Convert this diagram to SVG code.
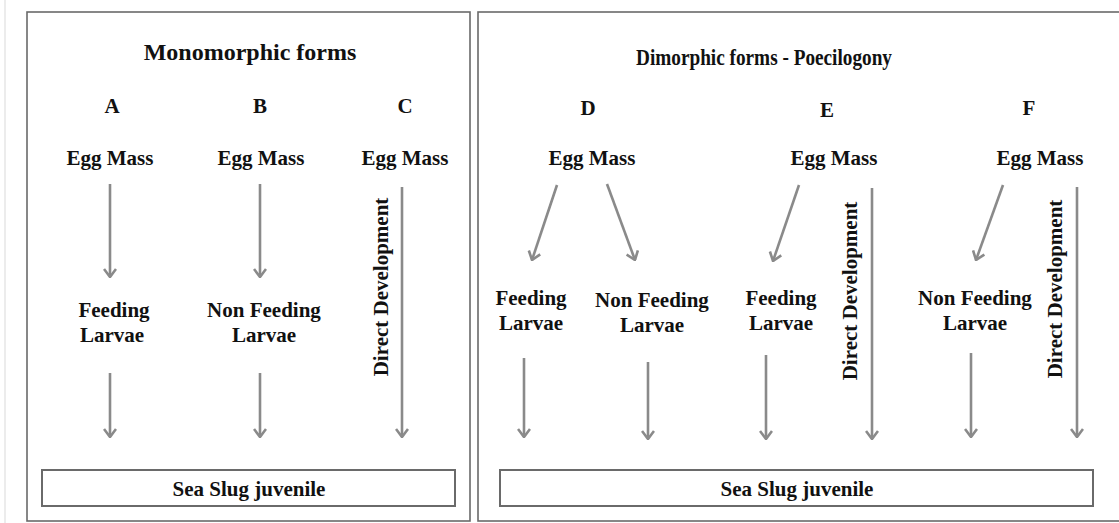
<svg xmlns="http://www.w3.org/2000/svg" width="1119" height="523" viewBox="0 0 1119 523">
<style>
.panel{fill:#fff;stroke:#6a6a6a;stroke-width:1.6}
.box{fill:#fff;stroke:#6a6a6a;stroke-width:2}
.t{font-family:"Liberation Serif","Times New Roman",serif;font-weight:bold;font-size:21px;fill:#111;text-anchor:middle}
.title{font-size:24px}
.title2{font-size:23px}
.arr{stroke:#8a8a8a;stroke-width:2.6;fill:none;marker-end:url(#ah)}
</style>
<defs>
<marker id="ah" viewBox="0 0 10 14" refX="9" refY="7" markerWidth="10" markerHeight="14" markerUnits="userSpaceOnUse" orient="auto">
<path d="M1,1 L9,7 L1,13" fill="none" stroke="#8a8a8a" stroke-width="2.6"/>
</marker>
</defs>
<rect width="1119" height="523" fill="#fff"/>
<line x1="5" y1="0" x2="5" y2="523" stroke="#e6e6e6" stroke-width="1.5"/>
<g id="panel-mono">
<rect class="panel" x="27" y="12" width="443" height="509"/>
<text class="t title" x="250" y="60">Monomorphic forms</text>
</g>
<g id="panel-di">
<rect class="panel" x="478" y="12" width="660" height="509"/>
<text class="t title2" x="764" y="65" textLength="256" lengthAdjust="spacingAndGlyphs">Dimorphic forms - Poecilogony</text>
</g>
<g id="col-A">
<text class="t" x="112" y="113">A</text>
<text class="t" x="110" y="165">Egg Mass</text>
<text class="t" x="114" y="317">Feeding</text>
<text class="t" x="112" y="342">Larvae</text>
</g>
<g id="col-B">
<text class="t" x="260" y="113">B</text>
<text class="t" x="261" y="165">Egg Mass</text>
<text class="t" x="264" y="317">Non Feeding</text>
<text class="t" x="264" y="342">Larvae</text>
</g>
<g id="col-C">
<text class="t" x="405" y="113">C</text>
<text class="t" x="405" y="165">Egg Mass</text>
<text class="t" transform="translate(388,287) rotate(-90)">Direct Development</text>
</g>
<g id="col-D">
<text class="t" x="588" y="115">D</text>
<text class="t" x="592" y="165">Egg Mass</text>
<text class="t" x="531" y="305">Feeding</text>
<text class="t" x="531" y="330">Larvae</text>
<text class="t" x="652" y="307">Non Feeding</text>
<text class="t" x="652" y="332">Larvae</text>
</g>
<g id="col-E">
<text class="t" x="827" y="117">E</text>
<text class="t" x="834" y="165">Egg Mass</text>
<text class="t" x="781" y="305">Feeding</text>
<text class="t" x="781" y="330">Larvae</text>
<text class="t" transform="translate(857,291) rotate(-90)">Direct Development</text>
</g>
<g id="col-F">
<text class="t" x="1029" y="115">F</text>
<text class="t" x="1040" y="165">Egg Mass</text>
<text class="t" x="975" y="305">Non Feeding</text>
<text class="t" x="975" y="330">Larvae</text>
<text class="t" transform="translate(1062,289) rotate(-90)">Direct Development</text>
</g>
<g id="juvenile-left">
<rect class="box" x="42" y="470" width="413" height="36"/>
<text class="t" x="249" y="496">Sea Slug juvenile</text>
</g>
<g id="juvenile-right">
<rect class="box" x="500" y="470" width="593" height="36"/>
<text class="t" x="797" y="496">Sea Slug juvenile</text>
</g>
<g id="connectors">
<line class="arr" x1="110" y1="184" x2="110" y2="277"/>
<line class="arr" x1="110" y1="373" x2="110" y2="437"/>
<line class="arr" x1="260" y1="184" x2="260" y2="277"/>
<line class="arr" x1="260" y1="373" x2="260" y2="437"/>
<line class="arr" x1="402" y1="187" x2="402" y2="437"/>
<line class="arr" x1="557" y1="185" x2="532" y2="260"/>
<line class="arr" x1="607" y1="184" x2="635" y2="260"/>
<line class="arr" x1="524" y1="358" x2="524" y2="437"/>
<line class="arr" x1="648" y1="362" x2="648" y2="439"/>
<line class="arr" x1="799" y1="185" x2="773" y2="261"/>
<line class="arr" x1="766" y1="355" x2="766" y2="439"/>
<line class="arr" x1="872" y1="188" x2="872" y2="439"/>
<line class="arr" x1="1003" y1="185" x2="976" y2="260"/>
<line class="arr" x1="971" y1="353" x2="971" y2="437"/>
<line class="arr" x1="1077" y1="187" x2="1077" y2="437"/>
</g>
</svg>
